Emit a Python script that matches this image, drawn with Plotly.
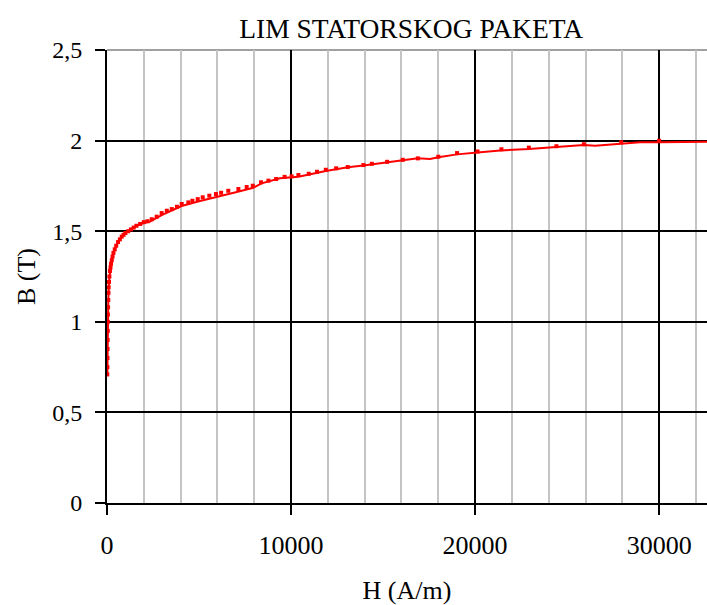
import plotly.graph_objects as go

# measured points (square markers)
H_pts = [15, 20, 25, 30, 35, 40, 45, 50, 60, 70, 80, 90, 110, 130, 160, 190, 220, 260,
         300, 350, 420, 500, 600, 700, 800, 900, 1000, 1150, 1300, 1450, 1600, 1800,
         2000, 2200, 2430, 2700, 2970, 3250, 3520, 3800, 4060, 4420, 4640, 4930, 5200,
         5560, 5920, 6200, 6590, 7140, 7590, 7920, 8370, 8770, 9190, 9650, 10030, 10400,
         10960, 11410, 11890, 12450, 13080, 13930, 14390, 15220, 16070, 16890, 18000,
         19020, 20130, 21430, 22920, 24420, 25910, 27940, 30000]
B_pts = [0.71, 0.75, 0.80, 0.85, 0.90, 0.95, 1.00, 1.04, 1.08, 1.12, 1.16, 1.19, 1.22,
         1.25, 1.28, 1.30, 1.32, 1.34, 1.36, 1.38, 1.40, 1.42, 1.44, 1.455, 1.47, 1.48,
         1.49, 1.50, 1.51, 1.52, 1.53, 1.54, 1.55, 1.555, 1.566, 1.58, 1.60, 1.613, 1.622,
         1.635, 1.65, 1.659, 1.668, 1.677, 1.687, 1.696, 1.705, 1.712, 1.723, 1.733, 1.744,
         1.751, 1.77, 1.779, 1.788, 1.80, 1.803, 1.81, 1.817, 1.828, 1.839, 1.847, 1.854,
         1.865, 1.872, 1.883, 1.894, 1.902, 1.911, 1.931, 1.94, 1.952, 1.961, 1.969, 1.98,
         1.991, 1.999]

# curve (line)
H_line = [20, 40, 50, 70, 110, 160, 220, 300, 420, 600, 800, 1000, 1300, 1600, 2000,
          2340, 3000, 4060, 5000, 6050, 7000, 7950, 8400, 9400, 10400, 11890, 13080,
          13930, 14390, 15220, 16070, 16890, 17550, 18000, 19020, 20130, 21360, 22920,
          24420, 25910, 26520, 27940, 28970, 30000, 32600]
B_line = [0.70, 0.95, 1.04, 1.12, 1.22, 1.28, 1.32, 1.36, 1.40, 1.44, 1.47, 1.49, 1.51,
          1.53, 1.545, 1.553, 1.59, 1.639, 1.665, 1.69, 1.715, 1.74, 1.764, 1.792, 1.801,
          1.832, 1.853, 1.862, 1.869, 1.880, 1.891, 1.902, 1.898, 1.908, 1.924, 1.935,
          1.946, 1.954, 1.963, 1.976, 1.972, 1.983, 1.991, 1.991, 1.994]

x_ticks = [0, 10000, 20000, 30000]
x_labels = ["0", "10000", "20000", "30000"]
y_ticks = [0, 0.5, 1, 1.5, 2, 2.5]
y_labels = ["0", "0,5", "1", "1,5", "2", "2,5"]

FONT = "Liberation Serif, Times New Roman, serif"

fig = go.Figure()
fig.add_trace(go.Scatter(x=H_line, y=B_line, mode="lines",
                         line=dict(color="#ff0000", width=2), showlegend=False))
fig.add_trace(go.Scatter(x=H_pts, y=B_pts, mode="markers",
                         marker=dict(symbol="square", size=4, color="#ff0000"),
                         showlegend=False))

fig.update_layout(
    width=707, height=605,
    margin=dict(l=107, r=0, t=50, b=102),
    paper_bgcolor="white", plot_bgcolor="white",
    font=dict(family=FONT, size=24, color="black"),
    title=dict(text="LIM STATORSKOG PAKETA", xref="paper", x=0.507, xanchor="center",
               y=1 - 28 / 605, yanchor="middle", font=dict(family=FONT, size=27.5)),
    shapes=[dict(type="line", xref="paper", yref="paper", x0=0, x1=1, y0=1, y1=1,
                 line=dict(color="#a0a0a0", width=2), layer="below")],
)

fig.update_xaxes(
    range=[0, 32600], tickmode="array", tickvals=x_ticks, ticktext=x_labels,
    tickfont=dict(size=26),
    showgrid=True, gridcolor="black", gridwidth=1.5,
    minor=dict(dtick=2000, tick0=0, showgrid=True, gridcolor="#c4c4c4", gridwidth=2),
    showline=True, linecolor="black", linewidth=2,
    ticks="outside", ticklen=10, tickcolor="black", tickwidth=2,
    zeroline=False, ticklabelstandoff=8, automargin=False,
    title=dict(text="H (A/m)", font=dict(size=26), standoff=24),
)
fig.update_yaxes(
    range=[0, 2.5], tickmode="array", tickvals=y_ticks, ticktext=y_labels,
    tickfont=dict(size=24),
    showgrid=True, gridcolor="black", gridwidth=1.5,
    showline=True, linecolor="black", linewidth=2,
    ticks="outside", ticklen=10, tickcolor="black", tickwidth=2,
    zeroline=False, ticklabelstandoff=8, automargin=False,
    title=dict(text="B (T)", font=dict(size=26), standoff=9),
)

# drop the default body margin so the figure fills the window exactly
fig.write_html("out.html", config={"displayModeBar": False},
               post_script="document.body.style.margin = '0';")
